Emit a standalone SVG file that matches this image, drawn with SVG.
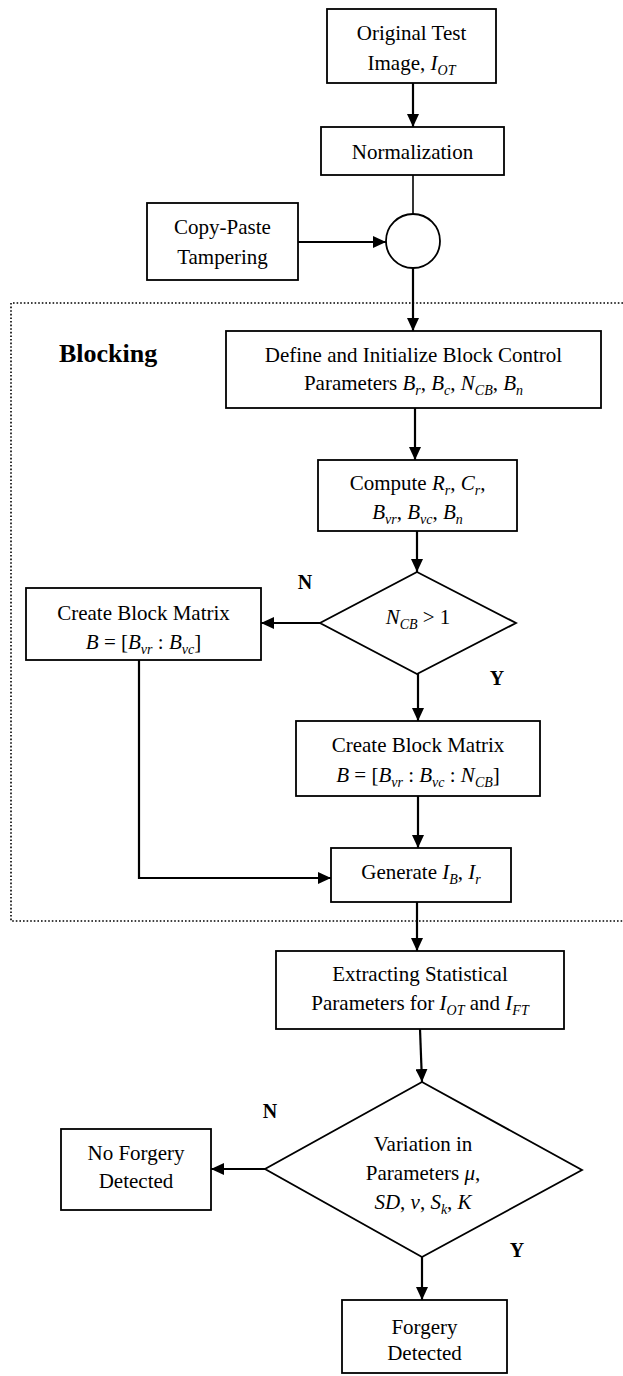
<svg xmlns="http://www.w3.org/2000/svg" width="623" height="1376" viewBox="0 0 623 1376">
<style>
.box{fill:#fff;stroke:#000;stroke-width:1.8}
.ln{fill:none;stroke:#000;stroke-width:2.2}
.thin{fill:none;stroke:#000;stroke-width:1.6}
.t{font-family:"Liberation Serif","Times New Roman",serif;font-size:21px;text-anchor:middle;fill:#000}
.i{font-style:italic}
.s{font-size:14px;font-style:italic}
.lb{font-family:"Liberation Serif","Times New Roman",serif;font-weight:bold;font-size:20px;fill:#000}
.dot{fill:none;stroke:#000;stroke-width:1.6;stroke-dasharray:1.6 2}
</style>
<defs>
<marker id="ah" markerUnits="userSpaceOnUse" markerWidth="14" markerHeight="12" refX="13" refY="6" orient="auto">
<path d="M0,0 L13,6 L0,12 z" fill="#000"/>
</marker>
</defs>
<rect width="623" height="1376" fill="#fff"/>
<path class="dot" d="M623,303 H11 V921 H623"/>
<text class="lb" x="59" y="362" style="font-size:26px">Blocking</text>

<g id="connectors">
<line class="ln" x1="413" y1="83" x2="413" y2="127" marker-end="url(#ah)"/>
<line class="thin" x1="413" y1="175" x2="413" y2="214"/>
<line class="ln" x1="298" y1="242" x2="386" y2="242" marker-end="url(#ah)"/>
<line class="ln" x1="413" y1="268" x2="413" y2="331" marker-end="url(#ah)"/>
<line class="ln" x1="415" y1="408" x2="415" y2="460" marker-end="url(#ah)"/>
<line class="ln" x1="417" y1="531" x2="417" y2="572" marker-end="url(#ah)"/>
<line class="ln" x1="320" y1="623" x2="261" y2="623" marker-end="url(#ah)"/>
<line class="ln" x1="418" y1="674" x2="418" y2="721" marker-end="url(#ah)"/>
<line class="ln" x1="418" y1="796" x2="418" y2="848" marker-end="url(#ah)"/>
<polyline class="ln" points="139,660 139,878 331,878" marker-end="url(#ah)"/>
<line class="ln" x1="417" y1="902" x2="417" y2="951" marker-end="url(#ah)"/>
<line class="ln" x1="420" y1="1029" x2="422" y2="1082" marker-end="url(#ah)"/>
<line class="ln" x1="265" y1="1169" x2="211" y2="1169" marker-end="url(#ah)"/>
<line class="ln" x1="422" y1="1257" x2="422" y2="1300" marker-end="url(#ah)"/>
<text class="lb" x="305" y="589" text-anchor="middle">N</text>
<text class="lb" x="497" y="685" text-anchor="middle">Y</text>
<text class="lb" x="270" y="1118" text-anchor="middle">N</text>
<text class="lb" x="517" y="1257" text-anchor="middle">Y</text>
</g>

<g id="original">
<rect class="box" x="327" y="9" width="169" height="74"/>
<text class="t" x="411.5" y="40">Original Test</text>
<text class="t" x="411.5" y="70">Image, <tspan class="i">I</tspan><tspan class="s" dy="5">OT</tspan></text>
</g>
<g id="normalization">
<rect class="box" x="321" y="127" width="183" height="48"/>
<text class="t" x="412.5" y="159">Normalization</text>
</g>
<g id="copypaste">
<rect class="box" x="147" y="203" width="151" height="77"/>
<text class="t" x="222.5" y="234">Copy-Paste</text>
<text class="t" x="222.5" y="264">Tampering</text>
</g>
<g id="junction">
<circle class="box" cx="413" cy="241" r="27"/>
</g>
<g id="define">
<rect class="box" x="226" y="331" width="375" height="77"/>
<text class="t" x="413.5" y="362">Define and Initialize Block Control</text>
<text class="t" x="413.5" y="390">Parameters <tspan class="i">B</tspan><tspan class="s" dy="5">r</tspan><tspan dy="-5">, </tspan><tspan class="i">B</tspan><tspan class="s" dy="5">c</tspan><tspan dy="-5">, </tspan><tspan class="i">N</tspan><tspan class="s" dy="5">CB</tspan><tspan dy="-5">, </tspan><tspan class="i">B</tspan><tspan class="s" dy="5">n</tspan></text>
</g>
<g id="compute">
<rect class="box" x="318" y="460" width="199" height="71"/>
<text class="t" x="417.5" y="490">Compute <tspan class="i">R</tspan><tspan class="s" dy="5">r</tspan><tspan dy="-5">, </tspan><tspan class="i">C</tspan><tspan class="s" dy="5">r</tspan><tspan dy="-5">,</tspan></text>
<text class="t" x="417.5" y="519"><tspan class="i">B</tspan><tspan class="s" dy="5">vr</tspan><tspan dy="-5">, </tspan><tspan class="i">B</tspan><tspan class="s" dy="5">vc</tspan><tspan dy="-5">, </tspan><tspan class="i">B</tspan><tspan class="s" dy="5">n</tspan></text>
</g>
<g id="decision1">
<polygon class="box" points="417,572 516,623 417,674 320,623"/>
<text class="t" x="418" y="624"><tspan class="i">N</tspan><tspan class="s" dy="5">CB</tspan><tspan dy="-5"> &gt; 1</tspan></text>
</g>
<g id="matrixN">
<rect class="box" x="26" y="588" width="235" height="72"/>
<text class="t" x="143.5" y="620">Create Block Matrix</text>
<text class="t" x="143.5" y="649"><tspan class="i">B</tspan> = [<tspan class="i">B</tspan><tspan class="s" dy="5">vr</tspan><tspan dy="-5"> : </tspan><tspan class="i">B</tspan><tspan class="s" dy="5">vc</tspan><tspan dy="-5">]</tspan></text>
</g>
<g id="matrixY">
<rect class="box" x="296" y="721" width="244" height="75"/>
<text class="t" x="418" y="752">Create Block Matrix</text>
<text class="t" x="418" y="782"><tspan class="i">B</tspan> = [<tspan class="i">B</tspan><tspan class="s" dy="5">vr</tspan><tspan dy="-5"> : </tspan><tspan class="i">B</tspan><tspan class="s" dy="5">vc</tspan><tspan dy="-5"> : </tspan><tspan class="i">N</tspan><tspan class="s" dy="5">CB</tspan><tspan dy="-5">]</tspan></text>
</g>
<g id="generate">
<rect class="box" x="331" y="848" width="180" height="54"/>
<text class="t" x="421" y="879">Generate <tspan class="i">I</tspan><tspan class="s" dy="5">B</tspan><tspan dy="-5">, </tspan><tspan class="i">I</tspan><tspan class="s" dy="5">r</tspan></text>
</g>
<g id="extracting">
<rect class="box" x="276" y="951" width="288" height="78"/>
<text class="t" x="420" y="981">Extracting Statistical</text>
<text class="t" x="420" y="1010">Parameters for <tspan class="i">I</tspan><tspan class="s" dy="5">OT</tspan><tspan dy="-5"> and </tspan><tspan class="i">I</tspan><tspan class="s" dy="5">FT</tspan></text>
</g>
<g id="decision2">
<polygon class="box" points="422,1082 582,1170 422,1257 265,1169"/>
<text class="t" x="423" y="1151">Variation in</text>
<text class="t" x="423" y="1180">Parameters <tspan class="i">μ</tspan>,</text>
<text class="t" x="423" y="1209"><tspan class="i">SD</tspan>, <tspan class="i">v</tspan>, <tspan class="i">S</tspan><tspan class="s" dy="5">k</tspan><tspan dy="-5">, </tspan><tspan class="i">K</tspan></text>
</g>
<g id="noforgery">
<rect class="box" x="61" y="1129" width="150" height="81"/>
<text class="t" x="136" y="1160">No Forgery</text>
<text class="t" x="136" y="1188">Detected</text>
</g>
<g id="forgery">
<rect class="box" x="342" y="1300" width="165" height="73"/>
<text class="t" x="424.5" y="1334">Forgery</text>
<text class="t" x="424.5" y="1360">Detected</text>
</g>
</svg>
